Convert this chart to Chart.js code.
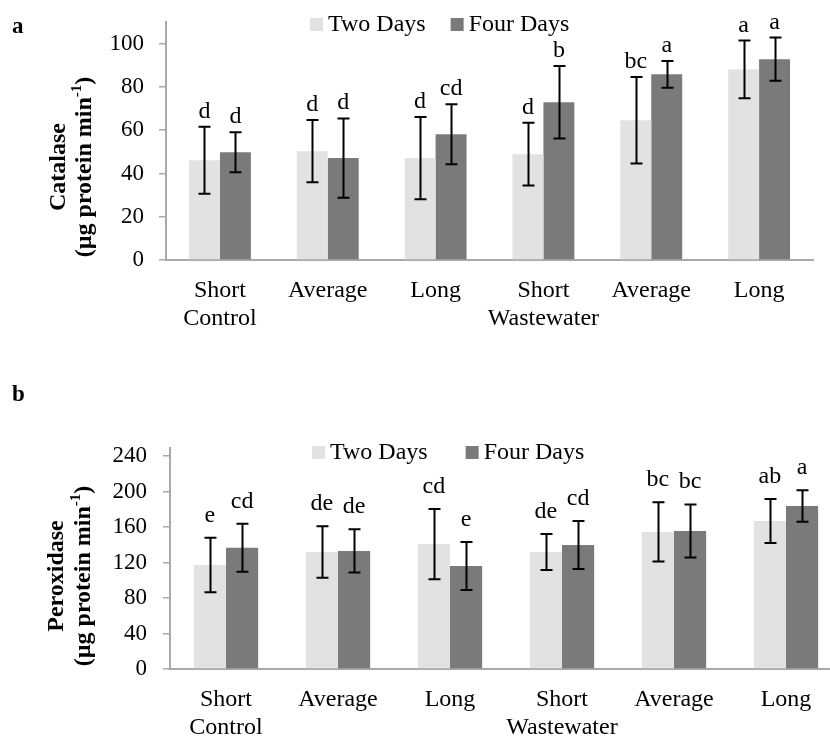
<!DOCTYPE html>
<html>
<head>
<meta charset="utf-8">
<script src="https://cdn.jsdelivr.net/npm/chart.js@4.4.0/dist/chart.umd.min.js"></script>
<style>
  body { margin:0; background:#fff; }
  #wrap { position:relative; width:830px; height:736px; overflow:hidden; }
  canvas { position:absolute; left:0; }
  .panel { position:absolute; left:12px; font:bold 23px "Liberation Serif", serif; color:#000; }
</style>
</head>
<body>
<div id="wrap">
  <canvas id="catalase" width="830" height="340" style="top:0"></canvas>
  <canvas id="peroxidase" width="860" height="356" style="top:380px"></canvas>
  <div class="panel" style="top:13px">a</div>
  <div class="panel" style="top:381px">b</div>
</div>
<script>
// === data ===
const categories = [['Short','Control'],'Average','Long',['Short','Wastewater'],'Average','Long'];
const seriesNames = ['Two Days','Four Days'];

const catalaseTwo = [46.1, 50.3, 47.1, 48.9, 64.6, 88.1];
const catalaseFour = [49.8, 47.1, 58.1, 72.9, 85.8, 92.8];
const catalaseTwoErr = [15.5, 14.4, 19.0, 14.5, 20.0, 13.3];
const catalaseFourErr = [9.3, 18.3, 13.9, 16.8, 6.2, 10.0];
const catalaseTwoLetters = ['d','d','d','d','bc','a'];
const catalaseFourLetters = ['d','d','cd','b','a','a'];
const catalaseTicks = [0, 20, 40, 60, 80, 100];

const peroxTwo = [117.2, 131.8, 140.8, 131.8, 154.4, 166.8];
const peroxFour = [136.7, 133.0, 116.0, 139.7, 155.5, 183.7];
const peroxTwoErr = [30.8, 29.0, 39.6, 20.3, 33.4, 24.8];
const peroxFourErr = [27.0, 24.4, 27.0, 27.0, 29.9, 17.7];
const peroxTwoLetters = ['e','de','cd','de','bc','ab'];
const peroxFourLetters = ['cd','de','e','cd','bc','a'];
const peroxTicks = [0, 40, 80, 120, 160, 200, 240];

const colTwo = '#e1e2e1';
const colFour = '#7a7a7a';
const axisCol = '#a9a9a9';
const serif = '"Liberation Serif", "Times New Roman", serif';

// error bars + significance letters
const errPlugin = {
  id: 'errLetters',
  afterDatasetsDraw(chart, args, opts) {
    const ctx = chart.ctx, y = chart.scales.y;
    ctx.save();
    ctx.strokeStyle = '#000';
    ctx.lineWidth = 2;
    ctx.fillStyle = '#000';
    ctx.font = '24px ' + serif;
    ctx.textAlign = 'center';
    ctx.textBaseline = 'alphabetic';
    chart.data.datasets.forEach((ds, i) => {
      chart.getDatasetMeta(i).data.forEach((bar, j) => {
        const v = ds.data[j], e = opts.errors[i][j];
        const top = y.getPixelForValue(v + e), bot = y.getPixelForValue(v - e);
        const x = Math.round(bar.x) + 0.5;
        ctx.beginPath();
        ctx.moveTo(x, top); ctx.lineTo(x, bot);
        ctx.moveTo(x - 6, top); ctx.lineTo(x + 6, top);
        ctx.moveTo(x - 6, bot); ctx.lineTo(x + 6, bot);
        ctx.stroke();
        ctx.fillText(opts.letters[i][j], bar.x, top - opts.gap);
      });
    });
    ctx.restore();
  }
};

// legend drawn over the plot, as in the original
const legendPlugin = {
  id: 'overLegend',
  afterDraw(chart, args, opts) {
    const ctx = chart.ctx, a = chart.chartArea;
    ctx.save();
    ctx.font = '24px ' + serif;
    ctx.textBaseline = 'middle';
    ctx.textAlign = 'left';
    let x = a.left + opts.dx;
    const yc = a.top + opts.dy;
    chart.data.datasets.forEach(ds => {
      ctx.fillStyle = ds.backgroundColor;
      ctx.fillRect(x, yc - 6, 13, 13);
      ctx.fillStyle = '#000';
      ctx.fillText(ds.label, x + 18, yc + 1);
      x += 18 + ctx.measureText(ds.label).width + opts.gap;
    });
    ctx.restore();
  }
};

// two-line bold y title with superscript
const yTitlePlugin = {
  id: 'yTitle',
  afterDraw(chart, args, opts) {
    const ctx = chart.ctx, a = chart.chartArea;
    const yc = a.bottom - 93;
    ctx.save();
    ctx.fillStyle = '#000';
    ctx.textBaseline = 'middle';
    ctx.translate(opts.x1, yc);
    ctx.rotate(-Math.PI / 2);
    ctx.font = 'bold 24px ' + serif;
    ctx.textAlign = 'center';
    ctx.fillText(opts.name, 0, 0);
    ctx.restore();

    ctx.save();
    ctx.fillStyle = '#000';
    ctx.textBaseline = 'middle';
    ctx.translate(opts.x2, yc);
    ctx.rotate(-Math.PI / 2);
    ctx.textAlign = 'left';
    const big = 'bold 24px ' + serif, small = 'bold 15px ' + serif;
    ctx.font = big;
    const w1 = ctx.measureText('(\u00b5g protein min').width;
    const w3 = ctx.measureText(')').width;
    ctx.font = small;
    const w2 = ctx.measureText('-1').width;
    let x = -(w1 + w2 + w3) / 2;
    ctx.font = big;
    ctx.fillText('(\u00b5g protein min', x, 0);
    x += w1;
    ctx.font = small;
    ctx.fillText('-1', x, -8);
    x += w2;
    ctx.font = big;
    ctx.fillText(')', x, 0);
    ctx.restore();
  }
};

function makeChart(id, two, four, twoErr, fourErr, twoLet, fourLet, yMax, step, cfg) {
  return new Chart(document.getElementById(id), {
    type: 'bar',
    data: {
      labels: categories,
      datasets: [
        { label: seriesNames[0], data: two, backgroundColor: colTwo },
        { label: seriesNames[1], data: four, backgroundColor: colFour }
      ]
    },
    options: {
      responsive: false,
      animation: false,
      layout: { padding: { top: cfg.top, right: cfg.right, left: 0, bottom: 0 } },
      datasets: { bar: { barPercentage: 1, categoryPercentage: 0.574 } },
      scales: {
        x: {
          grid: { display: false, drawTicks: false },
          border: { color: axisCol, width: 2 },
          ticks: { color: '#000', font: { family: serif, size: 24 }, padding: 16, maxRotation: 0, autoSkip: false },
          afterFit: s => { s.height = cfg.xh; }
        },
        y: {
          min: 0, max: yMax,
          grid: { drawOnChartArea: false, tickLength: 7, color: axisCol, lineWidth: 1.5 },
          border: { color: axisCol, width: 2 },
          ticks: { stepSize: step, includeBounds: false, color: '#000', font: { family: serif, size: 23 }, padding: cfg.tp },
          afterFit: s => { s.width = cfg.yw; s.paddingTop = 0; s.paddingBottom = 0; }
        }
      },
      plugins: {
        legend: { display: false },
        tooltip: { enabled: false },
        errLetters: { errors: [twoErr, fourErr], letters: [twoLet, fourLet], gap: cfg.gap },
        overLegend: { dx: cfg.ldx, dy: cfg.ldy, gap: cfg.lgap },
        yTitle: { name: cfg.name, x1: cfg.x1, x2: cfg.x2 }
      }
    },
    plugins: [errPlugin, legendPlugin, yTitlePlugin]
  });
}

makeChart('catalase', catalaseTwo, catalaseFour, catalaseTwoErr, catalaseFourErr,
  catalaseTwoLetters, catalaseFourLetters, 110, catalaseTicks[1],
  { top: 22, right: 17, xh: 80, yw: 166, tp: 15, gap: 9, ldx: 144, ldy: 2, lgap: 25,
    name: 'Catalase', x1: 59, x2: 85 });

makeChart('peroxidase', peroxTwo, peroxFour, peroxTwoErr, peroxFourErr,
  peroxTwoLetters, peroxFourLetters, 249, peroxTicks[1],
  { top: 68, right: 18, xh: 67, yw: 170, tp: 16, gap: 16, ldx: 142, ldy: 4, lgap: 38,
    name: 'Peroxidase', x1: 57, x2: 84 });
</script>
</body>
</html>
